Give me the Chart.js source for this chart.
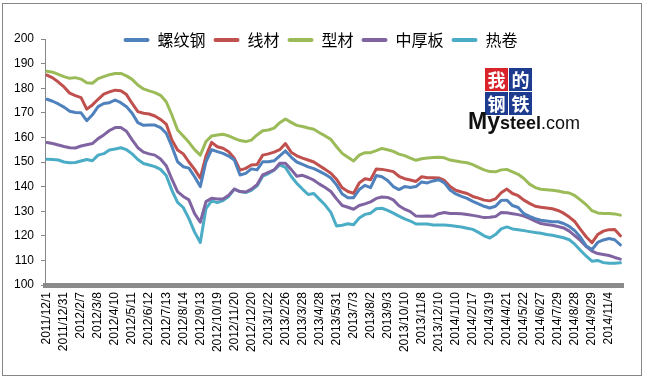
<!DOCTYPE html>
<html>
<head>
<meta charset="utf-8">
<script src="https://cdn.jsdelivr.net/npm/chart.js@4.4.1/dist/chart.umd.min.js"></script>
<style>
html,body{margin:0;padding:0;background:#fff;}
#wrap{position:relative;width:647px;height:382px;overflow:hidden;}
#frame{position:absolute;left:2px;top:3px;width:640px;height:373px;border:1px solid #868686;box-sizing:border-box;}
#c{position:absolute;left:0;top:0;}
.cell{position:absolute;width:23px;height:23px;color:#fff;font-family:"Noto Sans CJK SC";font-weight:bold;font-size:18px;line-height:23px;text-align:center;}
.red{background:#d8232a;}
.blue{background:#1d3c8f;}
#ms{position:absolute;left:468px;top:108px;font-family:"Liberation Sans";color:#111;white-space:nowrap;line-height:26px;}
</style>
</head>
<body>
<div id="wrap">
<div id="frame"></div>
<canvas id="c" width="647" height="382"></canvas>
<div class="cell red" style="left:485px;top:68px">我</div>
<div class="cell blue" style="left:509px;top:68px">的</div>
<div class="cell blue" style="left:485px;top:92px">钢</div>
<div class="cell blue" style="left:509px;top:92px">铁</div>
<div id="ms"><span style="font-weight:bold;font-size:23px">My</span><span style="font-weight:bold;font-size:18px">steel</span><span style="font-size:18px">.com</span></div>
</div>
<script>
const tickLabels = ['2011/12/1','2011/12/31','2012/2/7','2012/3/8','2012/4/10','2012/5/11','2012/6/12','2012/7/13','2012/8/14','2012/9/13','2012/10/19','2012/11/20','2012/12/20','2013/1/22','2013/2/26','2013/3/28','2013/4/28','2013/5/31','2013/7/3','2013/8/2','2013/9/3','2013/10/10','2013/11/8','2013/12/10','2014/1/10','2014/2/17','2014/3/19','2014/4/21','2014/5/22','2014/6/27','2014/7/29','2014/8/28','2014/9/29','2014/11/4'];
const pointsPerLabel = 3;

const seriesNames = ['螺纹钢','线材','型材','中厚板','热卷'];

const rebar = [175.5,174.7,173.6,172.3,170.6,170.1,170.0,166.8,169.2,172.5,
173.8,174.1,175.2,174.1,172.5,169.8,166.0,164.9,165.0,165.0,
164.0,161.7,156.3,150.1,148.1,147.5,144.0,140.0,150.1,155.0,
154.2,153.5,152.4,150.8,144.7,145.4,147.2,146.8,150.1,150.1,
150.5,152.5,154.5,152.0,150.0,149.0,148.0,147.3,146.2,145.0,
143.5,140.7,137.0,135.5,135.5,138.8,140.5,139.6,144.5,144.0,
142.5,140.0,138.8,140.0,139.6,140.0,141.9,141.5,142.3,142.8,
141.5,138.6,137.0,136.0,135.2,134.0,133.0,132.0,131.3,132.0,
134.4,134.5,132.3,131.5,129.0,127.9,127.0,126.3,126.0,125.7,
125.7,125.0,123.8,122.0,119.3,115.8,114.4,117.3,118.3,118.9,
118.4,116.3];

const wireRod = [185.3,184.2,182.5,180.5,178.0,177.0,176.2,171.5,173.2,175.5,
177.6,178.5,179.2,179.0,177.4,173.8,170.5,169.8,169.5,168.7,
167.3,165.4,158.9,154.9,153.3,150.0,147.0,143.4,152.4,158.0,
156.2,155.6,154.2,151.5,146.7,147.4,148.8,149.0,152.8,153.3,
154.0,155.0,157.5,154.0,152.5,151.6,150.8,150.0,148.5,147.0,
145.4,143.0,139.5,138.0,137.3,141.5,143.2,142.8,147.2,147.0,
146.6,146.1,144.2,143.2,142.7,142.1,144.0,143.6,143.6,143.5,
142.5,140.0,138.5,137.8,137.2,136.0,135.3,134.5,134.2,135.0,
137.5,139.0,137.2,136.3,134.5,133.2,132.0,131.6,131.3,131.0,
130.3,129.2,127.6,125.7,122.5,119.5,117.2,120.5,121.9,122.5,
122.6,120.0];

const sections = [186.9,186.5,185.6,184.7,184.0,184.3,183.7,182.2,182.0,183.9,
184.7,185.5,186.0,186.0,185.0,183.6,181.3,179.7,178.9,178.2,
177.1,174.5,169.1,163.0,160.6,158.0,155.0,152.8,158.3,160.6,
161.0,161.3,160.6,159.6,158.7,158.3,158.9,161.0,162.7,163.0,
163.8,166.0,167.5,166.1,164.9,164.4,163.8,163.3,161.9,160.6,
159.2,156.2,153.5,151.9,150.4,152.8,153.8,153.8,154.6,155.5,
155.0,154.3,153.2,152.6,151.6,150.7,151.3,151.6,151.8,151.9,
151.7,150.8,150.4,150.0,149.7,148.9,147.8,146.8,146.1,146.0,
146.8,147.0,146.0,145.0,143.3,141.0,139.6,138.9,138.7,138.5,
138.2,137.7,137.4,136.3,134.5,132.6,130.2,129.3,129.1,129.1,
128.9,128.4];

const plate = [157.9,157.5,156.9,156.3,155.8,155.7,156.5,157.0,157.5,159.5,
161.0,162.8,164.0,164.0,162.5,159.0,155.8,154.0,153.3,152.8,
151.2,148.5,143.0,138.0,136.0,134.6,129.0,125.5,133.9,135.3,
135.0,135.0,136.5,139.0,138.0,137.8,139.0,140.8,144.8,145.8,
146.8,149.5,149.5,147.0,144.2,144.6,143.7,142.6,141.0,139.6,
138.0,135.0,132.3,131.6,130.8,132.3,133.0,133.8,135.2,135.8,
135.6,134.6,132.2,130.8,129.8,128.0,127.9,128.0,127.9,129.0,
129.5,129.1,129.1,129.0,128.7,128.3,127.9,127.4,127.5,127.8,
129.5,129.4,129.0,128.6,128.0,127.1,126.0,125.0,124.6,124.3,
123.8,123.2,121.9,120.0,118.0,115.6,113.8,112.8,112.4,112.0,
111.2,110.5];

const hotCoil = [151.1,151.0,150.8,150.0,149.7,149.8,150.4,151.0,150.5,152.8,
153.4,154.9,155.3,155.8,155.0,153.3,151.0,149.4,148.8,148.1,
147.0,144.5,138.5,133.6,131.5,127.0,121.5,117.3,131.0,134.2,
133.5,134.3,136.0,139.0,138.0,137.6,138.5,140.3,144.2,145.3,
146.7,148.8,147.8,144.2,141.3,139.0,136.8,137.2,134.8,132.5,
129.5,124.0,124.3,124.9,124.5,127.2,128.7,129.2,131.0,131.2,
130.3,129.2,128.0,126.9,126.0,124.8,124.8,124.8,124.4,124.4,
124.4,124.2,123.9,123.6,123.1,122.6,121.4,120.0,119.1,120.5,
122.8,123.6,122.8,122.5,122.1,121.7,121.3,121.0,120.5,120.2,
119.7,119.2,118.4,116.5,114.0,111.7,109.7,110.0,109.1,108.8,
108.8,109.0];

const colors = ['#4F81BD','#C0504D','#9BBB59','#8064A2','#4BACC6'];
const seriesValues = [rebar, wireRod, sections, plate, hotCoil];

const datasets = seriesValues.map((vals, s) => ({
  label: seriesNames[s],
  data: vals.map((v, i) => ({x: i, y: v})),
  borderColor: colors[s],
  backgroundColor: colors[s],
  borderWidth: 3,
  pointRadius: 0,
  tension: 0,
  borderJoinStyle: 'round',
  borderCapStyle: 'round'
}));

const legendPatch = {
  id: 'legendPatch',
  beforeLayout(chart) {
    const lg = chart.legend;
    if (lg && !lg._patched) {
      const orig = lg.fit;
      lg.fit = function () { orig.call(this); this.height = 15; };
      lg._patched = true;
    }
  },
  afterLayout(chart) {
    const lg = chart.legend;
    if (lg) {
      lg.left += 9; lg.right += 9;
      lg.height = 40; lg.bottom = lg.top + 40;
    }
  }
};

new Chart(document.getElementById('c'), {
  type: 'line',
  data: { datasets },
  plugins: [legendPatch],
  options: {
    responsive: false,
    animation: false,
    events: [],
    layout: { padding: { left: 0, right: 24, top: 24, bottom: 0 } },
    plugins: {
      tooltip: { enabled: false },
      legend: {
        position: 'top',
        labels: {
          color: '#000',
          font: { family: '"Noto Sans CJK SC"', size: 16 },
          boxWidth: 26,
          boxHeight: 4,
          padding: 8,
          generateLabels(chart) {
            const items = Chart.defaults.plugins.legend.labels.generateLabels(chart);
            items.forEach(it => { it.fillStyle = it.strokeStyle; it.lineWidth = 0; it.borderRadius = 2; });
            return items;
          }
        }
      }
    },
    scales: {
      x: {
        type: 'linear',
        bounds: 'data',
        min: -0.352,
        max: 101.46,
        grid: { display: false, drawTicks: false },
        border: { display: true, color: '#8a8a8a', width: 5 },
        afterBuildTicks(scale) {
          scale.ticks = tickLabels.map((t, k) => ({ value: k * pointsPerLabel }));
        },
        ticks: {
          autoSkip: false,
          maxRotation: 90,
          minRotation: 90,
          padding: 7,
          color: '#000',
          font: { family: '"Liberation Sans"', size: 12 },
          callback(v, i) { return tickLabels[i]; }
        },
        afterFit(scale) { scale.height = 382 - 285; }
      },
      y: {
        min: 100,
        max: 200,
        grid: { drawOnChartArea: false, drawTicks: true, tickLength: 4, color: '#868686' },
        border: { color: '#868686', width: 1 },
        ticks: {
          stepSize: 10,
          padding: 7,
          color: '#000',
          font: { family: '"Liberation Sans"', size: 12 }
        },
        afterFit(scale) { scale.width = 45; }
      }
    }
  }
});
</script>
</body>
</html>
